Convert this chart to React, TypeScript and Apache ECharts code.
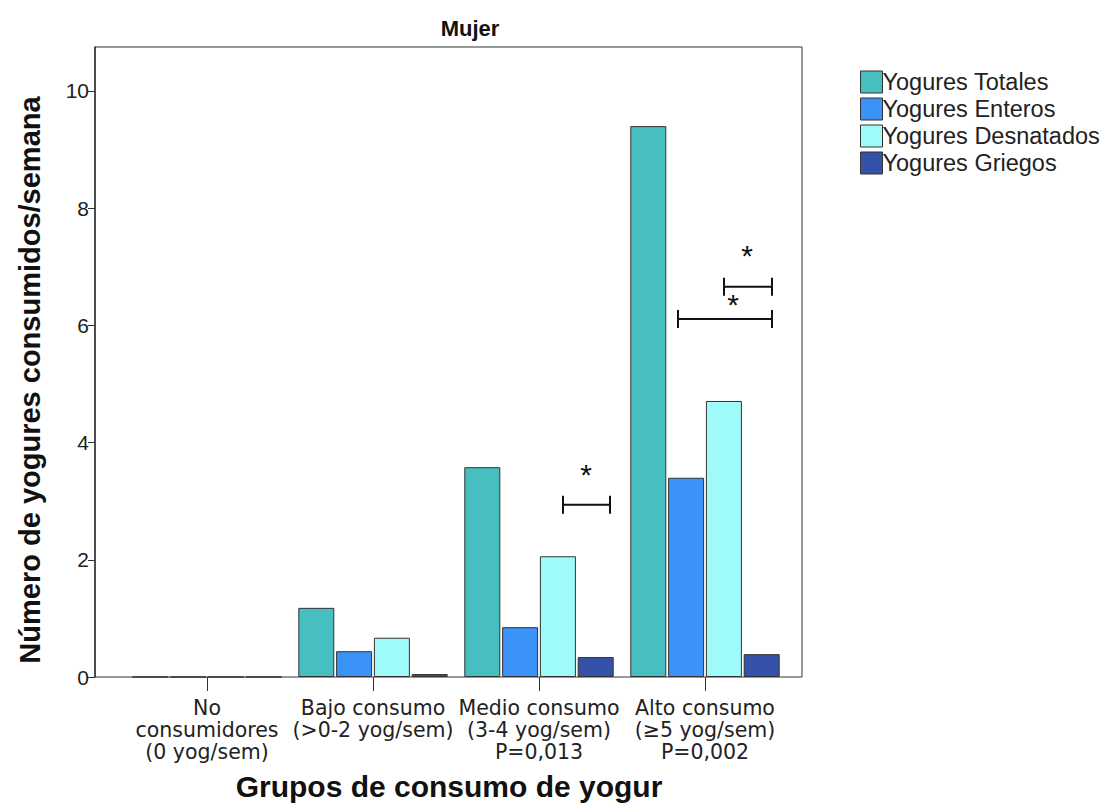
import React, { useEffect, useRef } from "react";
import * as echarts from "echarts";

const categories = [
  "No\nconsumidores\n(0 yog/sem)",
  "Bajo consumo\n(>0-2 yog/sem)",
  "Medio consumo\n(3-4 yog/sem)\nP=0,013",
  "Alto consumo\n(≥5 yog/sem)\nP=0,002",
];
const seriesNames = ["Yogures Totales", "Yogures Enteros", "Yogures Desnatados", "Yogures Griegos"];
const totales = [0, 1.18, 3.58, 9.4];
const enteros = [0, 0.44, 0.85, 3.4];
const desnatados = [0, 0.67, 2.06, 4.71];
const griegos = [0, 0.05, 0.34, 0.39];
const yTicks = [0, 2, 4, 6, 8, 10];
const colors = ["#47BFC1", "#3B93F7", "#9FFAFA", "#3453A8"];

// significance brackets: category index, left/right offsets (px) from category centre, level (y value)
const brackets = [
  { cat: 2, from: 24, to: 71, y: 2.94, starDx: 47, starY: 3.45 },
  { cat: 3, from: 19, to: 67, y: 6.66, starDx: 42, starY: 7.2 },
  { cat: 3, from: -27, to: 67, y: 6.11, starDx: 28, starY: 6.35 },
];

const FONT = "'Liberation Sans', Arial, sans-serif";
const LABEL_FONT = "'DejaVu Sans', 'Liberation Sans', sans-serif";

export default function App() {
  const ref = useRef<HTMLDivElement>(null);
  useEffect(() => {
    if (!ref.current) return;
    const chart = echarts.init(ref.current, null, { renderer: "svg" });
    const data = [totales, enteros, desnatados, griegos];
    const option: any = {
      animation: false,
      textStyle: { fontFamily: FONT },
      grid: [
        { left: 95, right: 306, top: 47, bottom: 130, show: true, borderColor: "#333", borderWidth: 1, backgroundColor: "transparent" },
        { left: 124, right: 320, top: 47, bottom: 130 },
      ],
      xAxis: [
        { type: "value", gridIndex: 0, show: false, min: 0, max: 1 },
        {
          type: "category",
          gridIndex: 1,
          data: categories,
          axisLine: { show: false },
          axisTick: { show: true, alignWithLabel: true, length: 14, lineStyle: { color: "#333", width: 1 } },
          axisLabel: { interval: 0, fontSize: 20.5, lineHeight: 22, color: "#222", margin: 20, fontFamily: LABEL_FONT },
        },
      ],
      yAxis: [
        {
          type: "value",
          gridIndex: 0,
          min: 0,
          max: 10.75,
          interval: 2,
          splitLine: { show: false },
          axisLine: { show: true, lineStyle: { color: "#333", width: 1.5 } },
          axisTick: { show: true, length: 7, customValues: yTicks, lineStyle: { color: "#333" } },
          axisLabel: { fontSize: 21, color: "#222", margin: 6, customValues: yTicks, fontFamily: FONT },
        },
        { type: "value", gridIndex: 1, min: 0, max: 10.75, show: false, splitLine: { show: false } },
      ],
      legend: {
        orient: "vertical",
        left: 855,
        top: 65,
        itemWidth: 22,
        itemHeight: 22,
        itemGap: 3,
        icon: "rect",
        data: seriesNames,
        textStyle: { fontSize: 23.5, color: "#222", fontFamily: FONT, padding: [0, 0, 0, -5] },
        itemStyle: { borderColor: "#333", borderWidth: 1 },
      },
      series: seriesNames.map((name, i) => ({
        name,
        type: "bar",
        xAxisIndex: 1,
        yAxisIndex: 1,
        data: data[i],
        barWidth: 36,
        barGap: "5%",
        itemStyle: { color: colors[i], borderColor: "#333", borderWidth: 1 },
      })),
    };
    chart.setOption(option);

    const graphics: any[] = [];
    brackets.forEach((b) => {
      const cx = chart.convertToPixel({ xAxisIndex: 1 }, b.cat) as number;
      const y = chart.convertToPixel({ yAxisIndex: 1 }, b.y) as number;
      const sy = chart.convertToPixel({ yAxisIndex: 1 }, b.starY) as number;
      const x0 = cx + b.from;
      const x1 = cx + b.to;
      const ls = { stroke: "#111", lineWidth: 2 };
      graphics.push({ type: "line", shape: { x1: x0, y1: y, x2: x1, y2: y }, style: ls });
      graphics.push({ type: "line", shape: { x1: x0, y1: y - 9, x2: x0, y2: y + 9 }, style: ls });
      graphics.push({ type: "line", shape: { x1: x1, y1: y - 9, x2: x1, y2: y + 9 }, style: ls });
      graphics.push({
        type: "text",
        x: cx + b.starDx,
        y: sy,
        style: { text: "*", fontSize: 30, fontWeight: "normal", fill: "#111", fontFamily: FONT, textAlign: "center", textVerticalAlign: "middle" },
      });
    });
    graphics.push({
      type: "text",
      x: 470,
      y: 28,
      style: { text: "Mujer", fontSize: 22, fontWeight: "bold", fill: "#111", fontFamily: FONT, textAlign: "center", textVerticalAlign: "middle" },
    });
    graphics.push({
      type: "text",
      x: 449,
      y: 786,
      style: { text: "Grupos de consumo de yogur", fontSize: 30, fontWeight: "bold", fill: "#111", fontFamily: FONT, textAlign: "center", textVerticalAlign: "middle" },
    });
    graphics.push({
      type: "text",
      x: 30,
      y: 380,
      rotation: Math.PI / 2,
      style: { text: "Número de yogures consumidos/semana", fontSize: 29, fontWeight: "bold", fill: "#111", fontFamily: FONT, textAlign: "center", textVerticalAlign: "middle" },
    });
    chart.setOption({ graphic: graphics });

    return () => chart.dispose();
  }, []);
  return <div ref={ref} style={{ position: "absolute", left: 0, top: 0, width: 1108, height: 807 }} />;
}
